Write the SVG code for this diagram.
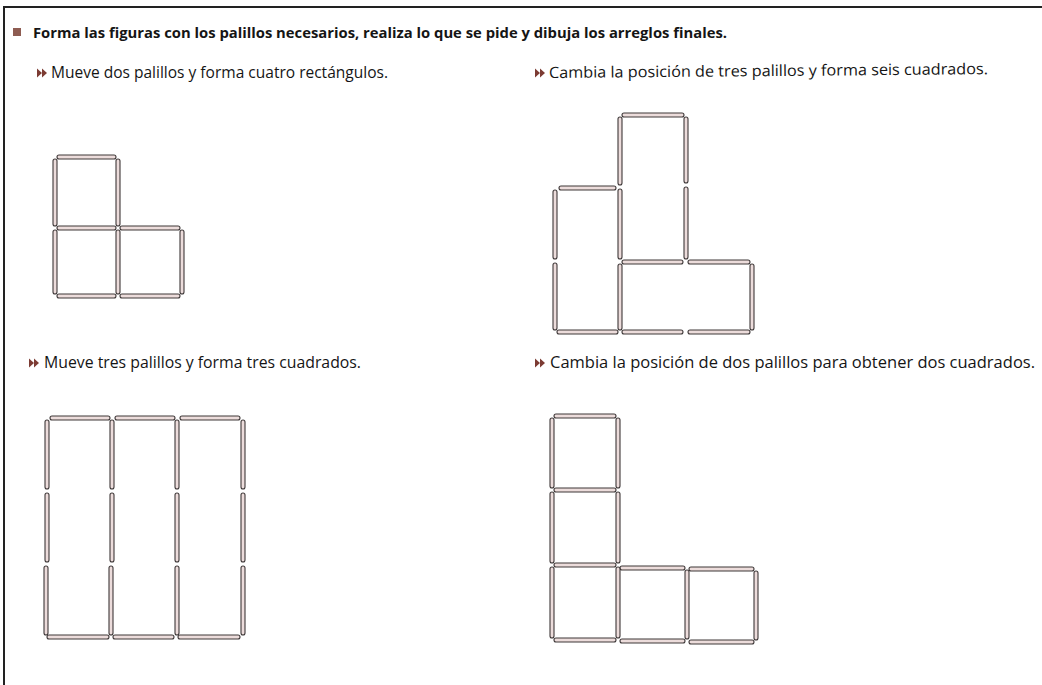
<svg xmlns="http://www.w3.org/2000/svg" width="1042" height="685" viewBox="0 0 1042 685">
  <style>
    .txt { font-family: "Open Sans", "Noto Sans", "Liberation Sans", sans-serif; fill: #151515; }
    .title { font-size: 15px; font-weight: bold; }
    .sub { font-size: 15.5px; }
    .stick { fill: #ecdcdb; stroke: #3e3838; stroke-width: 1.1; }
    .bullet { fill: #7c3b33; }
  </style>
  <defs>
    <g id="dbl">
      <polygon points="0,-4.5 5,0 0,4.5"/>
      <polygon points="5,-4.5 10,0 5,4.5"/>
    </g>
  </defs>
  <rect width="1042" height="685" fill="#ffffff"/>

  <!-- page frame -->
  <g id="frame" stroke="#222" stroke-width="2" fill="none">
    <line x1="3" y1="7" x2="1042" y2="7"/>
    <line x1="4" y1="6" x2="4" y2="685"/>
  </g>

  <!-- heading -->
  <g id="heading">
    <rect x="13" y="28" width="8" height="8" fill="#8e5c52"/>
    <text class="txt title" x="33" y="38" textLength="694" lengthAdjust="spacingAndGlyphs">Forma las figuras con los palillos necesarios, realiza lo que se pide y dibuja los arreglos finales.</text>
  </g>

  <!-- task captions -->
  <g id="task1-caption">
    <use href="#dbl" class="bullet" x="37" y="73"/>
    <text class="txt sub" x="51" y="78" textLength="337" lengthAdjust="spacingAndGlyphs">Mueve dos palillos y forma cuatro rectángulos.</text>
  </g>
  <g id="task2-caption">
    <use href="#dbl" class="bullet" x="535" y="73"/>
    <text class="txt sub" x="549" y="78" textLength="439" lengthAdjust="spacingAndGlyphs" transform="rotate(-0.5 549 78)">Cambia la posición de tres palillos y forma seis cuadrados.</text>
  </g>
  <g id="task3-caption">
    <use href="#dbl" class="bullet" x="29" y="363"/>
    <text class="txt sub" x="44" y="368" textLength="317" lengthAdjust="spacingAndGlyphs">Mueve tres palillos y forma tres cuadrados.</text>
  </g>
  <g id="task4-caption">
    <use href="#dbl" class="bullet" x="535" y="363"/>
    <text class="txt sub" x="550" y="368" textLength="485" lengthAdjust="spacingAndGlyphs">Cambia la posición de dos palillos para obtener dos cuadrados.</text>
  </g>

  <!-- figure 1: L of three squares (x 55,118,182 / y 157,228,296) -->
  <g id="figure1">
    <rect class="stick" x="57" y="155" width="59" height="4" rx="2"/>
    <rect class="stick" x="57" y="226" width="59" height="4" rx="2"/>
    <rect class="stick" x="120" y="226" width="60" height="4" rx="2"/>
    <rect class="stick" x="57" y="294" width="59" height="4" rx="2"/>
    <rect class="stick" x="120" y="294" width="60" height="4" rx="2"/>
    <rect class="stick" x="53" y="159" width="4" height="67" rx="2"/>
    <rect class="stick" x="116" y="159" width="4" height="67" rx="2"/>
    <rect class="stick" x="53" y="230" width="4" height="64" rx="2"/>
    <rect class="stick" x="116" y="230" width="4" height="64" rx="2"/>
    <rect class="stick" x="180" y="230" width="4" height="64" rx="2"/>
  </g>

  <!-- figure 2: three rectangles (x 555,620,686,752 / y 115,188,262,332) -->
  <g id="figure2">
    <rect class="stick" x="622" y="113" width="62" height="4" rx="2"/>
    <rect class="stick" x="559" y="186" width="57" height="4" rx="2"/>
    <rect class="stick" x="622" y="260" width="61" height="4" rx="2"/>
    <rect class="stick" x="688" y="260" width="62" height="4" rx="2"/>
    <rect class="stick" x="557" y="330" width="61" height="4" rx="2"/>
    <rect class="stick" x="622" y="330" width="61" height="4" rx="2"/>
    <rect class="stick" x="688" y="330" width="62" height="4" rx="2"/>
    <rect class="stick" x="553" y="190" width="4" height="69" rx="2"/>
    <rect class="stick" x="553" y="263" width="4" height="67" rx="2"/>
    <rect class="stick" x="618" y="117" width="4" height="68" rx="2"/>
    <rect class="stick" x="618" y="189" width="4" height="70" rx="2"/>
    <rect class="stick" x="618" y="264" width="4" height="66" rx="2"/>
    <rect class="stick" x="684" y="117" width="4" height="66" rx="2"/>
    <rect class="stick" x="684" y="187" width="4" height="72" rx="2"/>
    <rect class="stick" x="750" y="264" width="4" height="66" rx="2"/>
  </g>

  <!-- figure 3: three tall rectangles (x 47,112,177,243 / y 418,491,564,637) -->
  <g id="figure3">
    <rect class="stick" x="50" y="416" width="60" height="4" rx="2"/>
    <rect class="stick" x="115" y="416" width="60" height="4" rx="2"/>
    <rect class="stick" x="180" y="416" width="60" height="4" rx="2"/>
    <rect class="stick" x="47" y="635" width="62" height="4" rx="2"/>
    <rect class="stick" x="113" y="635" width="61" height="4" rx="2"/>
    <rect class="stick" x="178" y="635" width="62" height="4" rx="2"/>
    <rect class="stick" x="45" y="420" width="4" height="69" rx="2"/>
    <rect class="stick" x="45" y="493" width="4" height="69" rx="2"/>
    <rect class="stick" x="44" y="566" width="4" height="69" rx="2"/>
    <rect class="stick" x="110" y="420" width="4" height="69" rx="2"/>
    <rect class="stick" x="110" y="493" width="4" height="69" rx="2"/>
    <rect class="stick" x="109" y="566" width="4" height="69" rx="2"/>
    <rect class="stick" x="175" y="420" width="4" height="69" rx="2"/>
    <rect class="stick" x="175" y="493" width="4" height="69" rx="2"/>
    <rect class="stick" x="175" y="566" width="4" height="69" rx="2"/>
    <rect class="stick" x="241" y="420" width="4" height="69" rx="2"/>
    <rect class="stick" x="241" y="493" width="4" height="69" rx="2"/>
    <rect class="stick" x="241" y="566" width="4" height="69" rx="2"/>
  </g>

  <!-- figure 4: L of five squares (x 552,618,687,756 / y 416,490,565,640) -->
  <g id="figure4">
    <rect class="stick" x="554" y="414" width="62" height="4" rx="2"/>
    <rect class="stick" x="554" y="488" width="62" height="4" rx="2"/>
    <rect class="stick" x="554" y="563" width="62" height="4" rx="2"/>
    <rect class="stick" x="620" y="566" width="65" height="4" rx="2"/>
    <rect class="stick" x="689" y="567" width="65" height="4" rx="2"/>
    <rect class="stick" x="554" y="638" width="62" height="4" rx="2"/>
    <rect class="stick" x="620" y="639" width="65" height="4" rx="2"/>
    <rect class="stick" x="689" y="640" width="65" height="4" rx="2"/>
    <rect class="stick" x="550" y="418" width="4" height="70" rx="2"/>
    <rect class="stick" x="550" y="492" width="4" height="71" rx="2"/>
    <rect class="stick" x="550" y="567" width="4" height="71" rx="2"/>
    <rect class="stick" x="616" y="418" width="4" height="70" rx="2"/>
    <rect class="stick" x="616" y="492" width="4" height="71" rx="2"/>
    <rect class="stick" x="616" y="567" width="4" height="71" rx="2"/>
    <rect class="stick" x="685" y="570" width="4" height="69" rx="2"/>
    <rect class="stick" x="754" y="571" width="4" height="69" rx="2"/>
  </g>
</svg>
